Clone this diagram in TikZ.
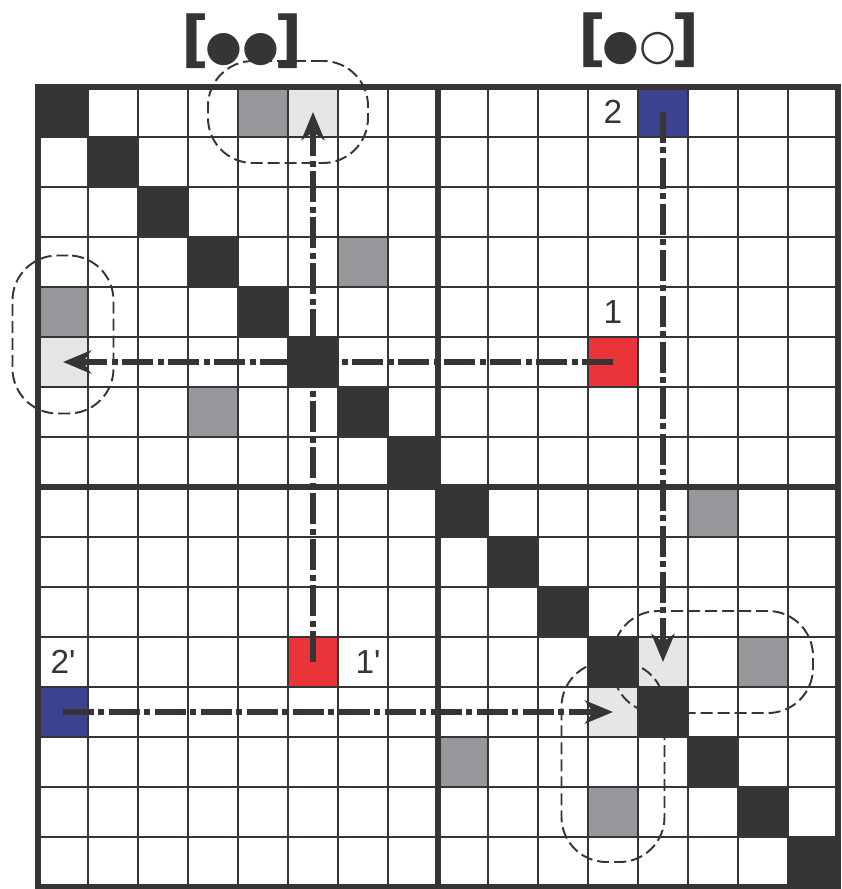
\documentclass[tikz,border=0pt]{standalone}
\usepackage{fontspec}
\setmainfont{Liberation Sans}
\newfontfamily\symfont{DejaVu Sans}
\usetikzlibrary{arrows.meta}
\definecolor{ink}{RGB}{54,52,53}
\definecolor{slate}{RGB}{150,151,155}
\definecolor{mist}{RGB}{230,230,231}
\definecolor{signal}{RGB}{233,52,58}
\definecolor{navy}{RGB}{60,66,143}
\newcommand{\occ}[1]{{\fontsize{24}{24}\selectfont\kern-2.5pt#1\kern-2.5pt}}
\tikzset{
  >={Stealth[length=5.6mm,width=4.6mm,inset=1.6mm]},
  cell/.style={fill=#1,minimum size=1cm,inner sep=0pt,outer sep=0pt},
  cell/.default=ink,
  hop/.style={->,draw=ink,line width=3pt,
    dash pattern=on 6.2mm off 0.8mm on 1.2mm off 1mm},
  ring/.style={draw=ink,line width=1.1pt,dash pattern=on 2.4mm off 1mm,
    rounded corners=9mm,inner sep=0pt,outer sep=0pt},
  num/.style={font=\fontsize{19}{19}\selectfont,text=ink,inner sep=0pt},
  pair/.style={font=\symfont\bfseries\fontsize{35}{35}\selectfont,text=ink,inner sep=0pt},
}

\begin{document}
\begin{tikzpicture}
  \useasboundingbox (-0.76,1.74) rectangle (16.08,-16.04);
  % off-diagonal entries
  \foreach \c/\r in {4/0,0/4,6/3,3/6,13/8,8/13,14/11,11/14}
    \node[cell=slate] (g\c-\r) at (\c+0.5,-\r-0.5) {};
  \node[cell=mist] (t1) at (5.5,-0.5) {};
  \node[cell=mist] (t2) at (0.5,-5.5) {};
  \node[cell=mist] (t3) at (12.5,-11.5) {};
  \node[cell=mist] (t4) at (11.5,-12.5) {};
  \node[cell=signal] (s1) at (11.5,-5.5) {};
  \node[cell=signal] (s2) at (5.5,-11.5) {};
  \node[cell=navy] (b1) at (12.5,-0.5) {};
  \node[cell=navy] (b2) at (0.5,-12.5) {};
  % grid
  \draw[ink,line width=1.3pt] (0,0) grid (16,-16);
  \draw[ink,line width=3.4pt] (0,0) rectangle (16,-16) (8,0) -- (8,-16) (0,-8) -- (16,-8);
  % groups
  \node[ring,minimum width=3.2cm,minimum height=2.04cm] (o1) at (5,-0.5) {};
  \node[ring,minimum width=2.02cm,minimum height=3.16cm] (o2) at (0.5,-4.95) {};
  \node[ring,minimum width=4cm,minimum height=2.04cm] (o3) at (13.5,-11.5) {};
  \node[ring,minimum width=2.06cm,minimum height=4cm] (o4) at (11.5,-13.5) {};
  % diagonal
  \foreach \i in {0,...,15}
    \node[cell] (d\i) at (\i+0.5,-\i-0.5) {};
  % moves
  \draw[hop] (s1.center) -- (t2.center);
  \draw[hop] (s2.center) -- (t1.center);
  \draw[hop] (b1.center) -- (t3.center);
  \draw[hop] (b2.center) -- (t4.center);
  % labels
  \node[num] (n2) at (11.5,-0.5) {2};
  \node[num] (n1) at (11.5,-4.5) {1};
  \node[num] (m2) at (0.5,-11.5) {2\textquotesingle};
  \node[num] (m1) at (6.6,-11.5) {1\textquotesingle};
  \node[pair] (p1) at (4.08,0.92) {[\occ{●●}]};
  \node[pair] (p2) at (12.02,0.94) {[\occ{●○}]};
\end{tikzpicture}
\end{document}
